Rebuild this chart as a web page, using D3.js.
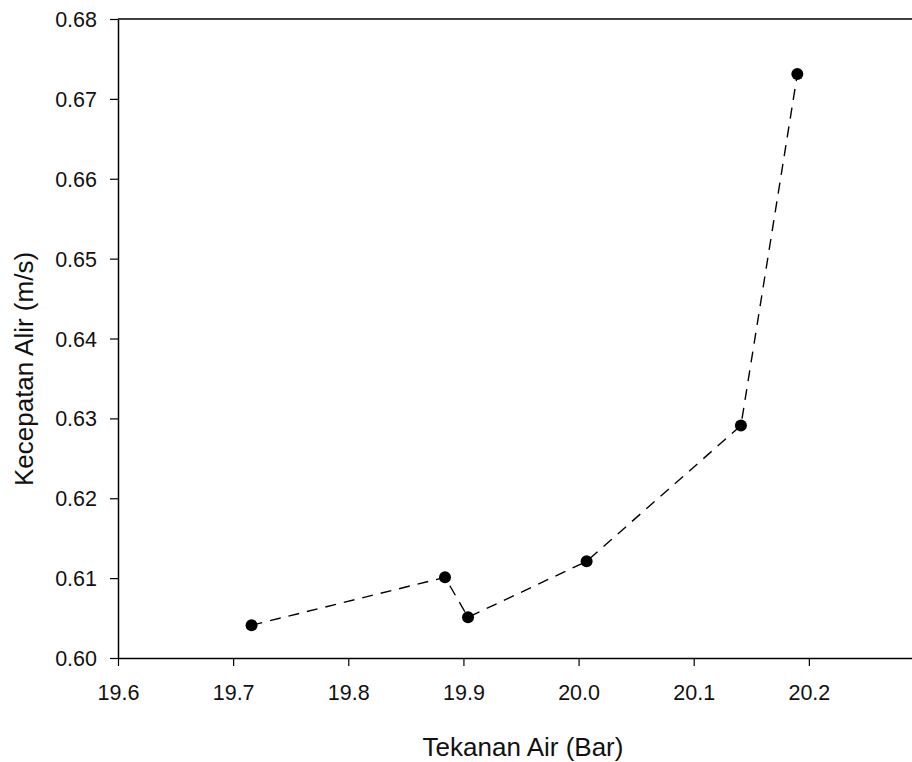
<!DOCTYPE html>
<html>
<head>
<meta charset="utf-8">
<script src="https://cdn.jsdelivr.net/npm/d3@7"></script>
<style>
  html, body { margin: 0; padding: 0; background: #fff; }
  svg { display: block; }
  text { font-family: Arial, "Liberation Sans", sans-serif; fill: #111; }
</style>
</head>
<body>
<svg id="chart" width="912" height="762"></svg>
<script>
// Data
const tekanan = [19.716, 19.884, 19.904, 20.007, 20.141, 20.190];
const kecepatan = [0.6041, 0.6101, 0.6051, 0.6121, 0.6291, 0.6731];
const xTicks = [19.6, 19.7, 19.8, 19.9, 20.0, 20.1, 20.2];
const yTicks = [0.60, 0.61, 0.62, 0.63, 0.64, 0.65, 0.66, 0.67, 0.68];
const xDomain = [19.6, 20.3];
const yDomain = [0.60, 0.68];
const xTitle = "Tekanan Air (Bar)";
const yTitle = "Kecepatan Alir (m/s)";

const svg = d3.select("#chart");
const pL = 118, pT = 19, pR = 924, pB = 658;

const x = d3.scaleLinear().domain(xDomain).range([pL, pR]);
const y = d3.scaleLinear().domain(yDomain).range([pB, pT]);

// Top frame line
svg.append("line").attr("x1", pL).attr("x2", pR).attr("y1", pT).attr("y2", pT)
  .attr("stroke", "#000").attr("stroke-width", 1.5);

const xAxis = svg.append("g").attr("transform", `translate(0,${pB})`)
  .call(d3.axisBottom(x).tickValues(xTicks).tickFormat(d3.format(".1f")).tickSize(8).tickSizeOuter(0));
const yAxis = svg.append("g").attr("transform", `translate(${pL},0)`)
  .call(d3.axisLeft(y).tickValues(yTicks).tickFormat(d3.format(".2f")).tickSize(8).tickSizeOuter(0));

[xAxis, yAxis].forEach(g => {
  g.select(".domain").attr("stroke", "#000").attr("stroke-width", 1.5);
  g.selectAll(".tick line").attr("stroke", "#000").attr("stroke-width", 1.2);
  g.selectAll(".tick text").attr("font-size", 21.5).attr("fill", "#222")
    .attr("font-family", "Arial, 'Liberation Sans', sans-serif");
});
xAxis.selectAll(".tick text").attr("dy", "0").attr("y", 42);
yAxis.selectAll(".tick text").attr("x", -21).attr("dy", "0.35em");

// Titles
svg.append("text").attr("x", 523).attr("y", 756).attr("text-anchor", "middle")
  .attr("font-size", 26).text(xTitle);
svg.append("text").attr("transform", "translate(33,369) rotate(-90)").attr("text-anchor", "middle")
  .attr("font-size", 26).text(yTitle);

// Line
const pts = tekanan.map((t, i) => [t, kecepatan[i]]);
svg.append("path").datum(pts)
  .attr("d", d3.line().x(d => x(d[0])).y(d => y(d[1])))
  .attr("fill", "none").attr("stroke", "#000").attr("stroke-width", 1.4)
  .attr("stroke-dasharray", "11,8");

// Markers
svg.selectAll("circle.pt").data(pts).enter().append("circle")
  .attr("class", "pt").attr("cx", d => x(d[0])).attr("cy", d => y(d[1]))
  .attr("r", 6).attr("fill", "#000");
</script>
</body>
</html>
